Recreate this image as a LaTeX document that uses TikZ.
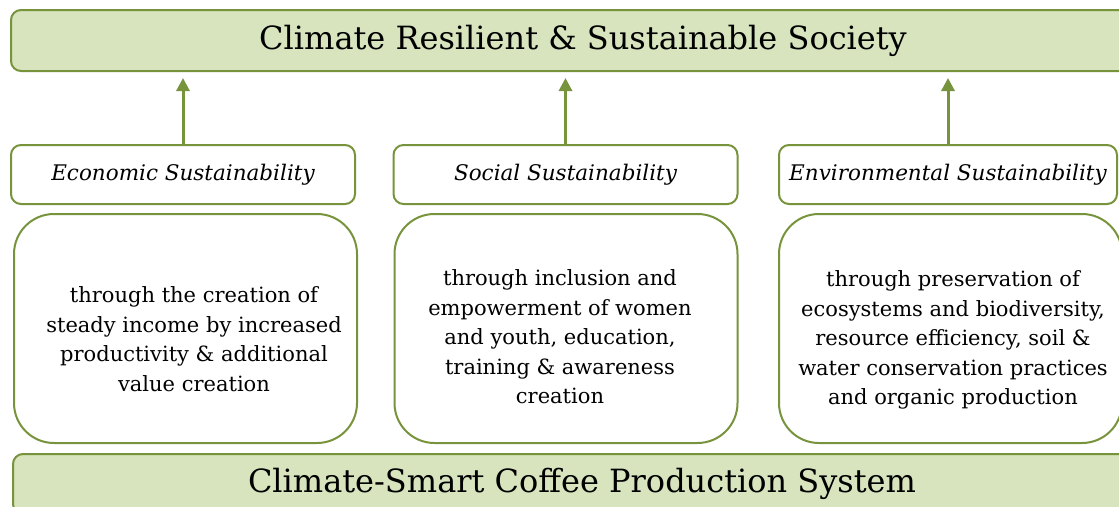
\documentclass[tikz,border=0pt]{standalone}
\usepackage{fontspec}
\setmainfont{DejaVu Serif}
\usetikzlibrary{arrows.meta}

\definecolor{leafgreen}{HTML}{77933C}
\definecolor{leaffill}{HTML}{D7E4BD}

\begin{document}
\begin{tikzpicture}[x=1pt, y=-1pt,
  banner/.style={draw=leafgreen, line width=2pt, fill=leaffill, rounded corners=10pt, minimum height=61pt, font=\fontsize{32}{38}\selectfont},
  pillar/.style={draw=leafgreen, line width=2pt, rounded corners=10pt, minimum width=344pt, minimum height=59pt, font=\fontsize{21.5}{26}\selectfont\itshape},
  detail/.style={draw=leafgreen, line width=2pt, rounded corners=40pt, minimum width=343pt, minimum height=229pt},
  body/.style={align=center, font=\fontsize{21}{29.5}\selectfont},
  up/.style={draw=leafgreen, line width=3pt, -{Triangle[length=13pt, width=13pt]}, shorten >=6pt}
]
  \clip (0,0) rectangle (1119,506);

  % top and bottom bands
  \node[banner, minimum width=1144pt] (society) at (583,40.5) {Climate Resilient \& Sustainable Society};
  \node[banner, minimum width=1138pt, minimum height=60pt] (coffee) at (582,484) {Climate-Smart Coffee Production System};

  % the three pillars
  \node[pillar] (eco) at (183,174.5) {Economic Sustainability};
  \node[pillar] (soc) at (565.5,174.5) {Social Sustainability};
  \node[pillar, minimum width=338pt] (env) at (948,174.5) {Environmental Sustainability};

  \node[detail] (ecobox) at (185.5,328.5) {};
  \node[detail] (socbox) at (566,328.5) {};
  \node[detail] (envbox) at (950.5,328.5) {};
  \node[body] (ecotxt) at (194,339) {through the creation of\\steady income by increased\\productivity \& additional\\value creation};
  \node[body] (soctxt) at (560,337) {through inclusion and\\empowerment of women\\and youth, education,\\training \& awareness\\creation};
  \node[body] (envtxt) at (953,340) {through preservation of\\ecosystems and biodiversity,\\resource efficiency, soil \&\\water conservation practices\\and organic production};

  \draw[up] (eco.north) -- (eco.north |- society.south);
  \draw[up] (soc.north) -- (soc.north |- society.south);
  \draw[up] (env.north) -- (env.north |- society.south);
\end{tikzpicture}
\end{document}
